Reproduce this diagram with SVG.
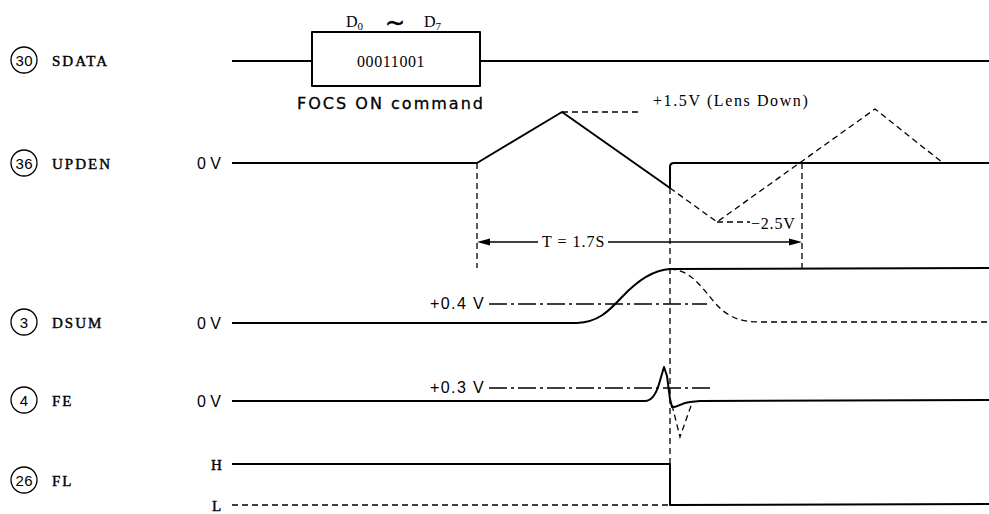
<svg xmlns="http://www.w3.org/2000/svg" width="989" height="514" viewBox="0 0 989 514">
<style>
.sig{fill:none;stroke:#000;stroke-width:2;stroke-linejoin:round}
.thin{fill:none;stroke:#000;stroke-width:1.3}
.dash{fill:none;stroke:#000;stroke-width:1.3;stroke-dasharray:6,4}
.ddash{fill:none;stroke:#000;stroke-width:1.3;stroke-dasharray:18,4,3,4}
.lab{font-family:"Liberation Serif",serif;font-size:15px;letter-spacing:2px;stroke:#000;stroke-width:0.4}
.num{font-family:"Liberation Sans",sans-serif;font-size:15px}
.ser{font-family:"Liberation Serif",serif;font-size:16px}
.zv{font-family:"Liberation Sans",sans-serif;font-size:16px}
.sans{font-family:"DejaVu Sans",sans-serif;font-size:16px;stroke:#000;stroke-width:0.3}
circle.pin{fill:none;stroke:#000;stroke-width:1.3}
</style>
<rect width="989" height="514" fill="#fff"/>
<g id="labels">
<g id="label-sdata"><circle class="pin" cx="24" cy="60" r="13"/><text class="num" x="24" y="65.5" text-anchor="middle" textLength="17">30</text><text class="lab" x="52" y="66">SDATA</text></g>
<g id="label-upden"><circle class="pin" cx="24" cy="163" r="13"/><text class="num" x="24" y="168.5" text-anchor="middle" textLength="17">36</text><text class="lab" x="52" y="169">UPDEN</text></g>
<g id="label-dsum"><circle class="pin" cx="24" cy="322" r="13"/><text class="num" x="24" y="327.5" text-anchor="middle">3</text><text class="lab" x="52" y="328">DSUM</text></g>
<g id="label-fe"><circle class="pin" cx="24" cy="400" r="13"/><text class="num" x="24" y="405.5" text-anchor="middle">4</text><text class="lab" x="52" y="406">FE</text></g>
<g id="label-fl"><circle class="pin" cx="24" cy="480" r="13"/><text class="num" x="24" y="485.5" text-anchor="middle" textLength="17">26</text><text class="lab" x="52" y="486">FL</text></g>
<text class="zv" x="197" y="169">0 V</text>
<text class="zv" x="197" y="329">0 V</text>
<text class="zv" x="197" y="407">0 V</text>
<text class="lab" x="211" y="470" letter-spacing="0">H</text>
<text class="lab" x="212" y="511" letter-spacing="0">L</text>
</g>
<g id="sdata">
<line class="sig" x1="232" y1="61" x2="312" y2="61"/>
<rect x="312" y="32" width="168" height="54" class="sig"/>
<line class="sig" x1="480" y1="61" x2="989" y2="61"/>
<text class="ser" x="357" y="67" font-size="17" letter-spacing="0.6">00011001</text>
<text class="ser" x="346" y="27" font-size="17">D<tspan font-size="11" dy="3">0</tspan></text>
<text x="385" y="31" font-family="DejaVu Sans, sans-serif" font-size="24" stroke="#000" stroke-width="0.5">~</text>
<text class="ser" x="424" y="27" font-size="17">D<tspan font-size="11" dy="3">7</tspan></text>
<text class="sans" x="297" y="109" textLength="186">FOCS ON command</text>
</g>
<g id="upden">
<path class="sig" d="M232,163 L477,163 L562,112 L670,188 L670,167 Q670,163 674,163 L989,163"/>
<path class="dash" d="M670,188 L717,222 L875,109 L943,163"/>
<path class="dash" d="M562,112 L642,112"/>
<text class="ser" x="653" y="106" letter-spacing="1.6">+1.5V (Lens Down)</text>
<path class="dash" d="M717,222 L750,222"/>
<text class="ser" x="751" y="229" letter-spacing="0.8">−2.5V</text>
</g>
<g id="connectors">
<path class="dash" d="M477,163 L477,268" stroke-dasharray="10,6"/>
<path class="dash" d="M802,163 L802,268" stroke-dasharray="10,6"/>
<path class="dash" d="M670,188 L670,505" stroke-dasharray="5,3"/>
<line class="thin" x1="485" y1="242" x2="538" y2="242"/>
<line class="thin" x1="608" y1="242" x2="794" y2="242"/>
<polygon points="477,242 490,238.5 490,245.5" fill="#000"/>
<polygon points="802,242 789,238.5 789,245.5" fill="#000"/>
<text class="ser" x="542" y="247" letter-spacing="1">T = 1.7S</text>
</g>
<g id="dsum">
<path class="sig" d="M232,323 L577,323 C598,322 608,312 622,297 C637,281 652,270 670,269 L989,268"/>
<path class="dash" d="M670,269 C690,270 700,285 715,303 C728,318 742,322 760,322 L989,322" stroke-dasharray="5,3"/>
<path class="ddash" d="M489,304 L707,304"/>
<text class="zv" x="430" y="309" letter-spacing="1.4">+0.4 V</text>
</g>
<g id="fe">
<path class="sig" d="M232,401 L645,401 C652,401 656,394 659,384 L664,367 L667,376 L670,399 L672,407 C676,408 681,403 690,402 L700,401 L989,400"/>
<path class="dash" d="M672,405 L680,437 L692,403" stroke-dasharray="5,3"/>
<path class="ddash" d="M489,388 L710,388"/>
<text class="zv" x="430" y="393" letter-spacing="1.4">+0.3 V</text>
</g>
<g id="fl">
<path class="sig" d="M232,464 L670,464 L670,505 L989,504"/>
<path class="dash" d="M232,505 L670,505" stroke-dasharray="5,3"/>
</g>
</svg>
